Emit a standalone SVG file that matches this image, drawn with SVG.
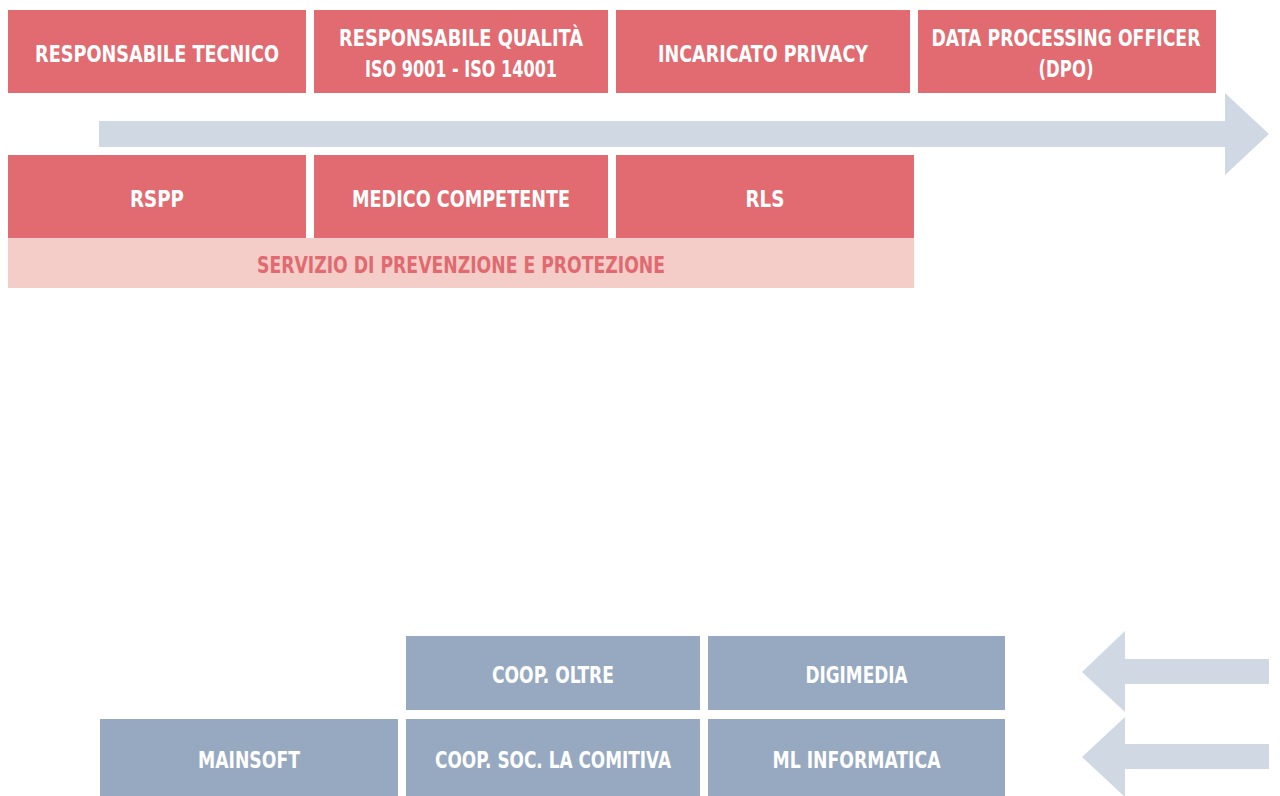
<svg xmlns="http://www.w3.org/2000/svg" width="1280" height="796" viewBox="0 0 1280 796">
<style>
.red{fill:#E16B70}
.blue{fill:#96A9C0}
.band{fill:#F4CDC8}
.arrow{fill:#D0D8E3}
text{font-family:"Liberation Sans Narrow","DejaVu Sans Condensed","Liberation Sans",sans-serif;font-weight:bold;font-size:23px;text-anchor:middle}
.w{fill:#FFFFFF}
.r{fill:#E06A70}
</style>
<rect width="1280" height="796" fill="#FFFFFF"/>
<g id="connectors">
<polygon class="arrow" points="99,121 1225,121 1225,93 1269,134 1225,175 1225,147 99,147"/>
<polygon class="arrow" points="1269,659 1125,659 1125,631 1082,672 1125,712 1125,684 1269,684"/>
<polygon class="arrow" points="1269,744 1125,744 1125,717 1082,757 1125,797 1125,769 1269,769"/>
</g>
<g id="responsabile-tecnico"><rect class="red" x="8" y="10" width="298" height="83"/><text class="w" x="157" y="62" textLength="244" lengthAdjust="spacingAndGlyphs">RESPONSABILE TECNICO</text></g>
<g id="responsabile-qualita"><rect class="red" x="314" y="10" width="294" height="83"/><text class="w" x="461" y="46" textLength="244" lengthAdjust="spacingAndGlyphs">RESPONSABILE QUALITÀ</text><text class="w" x="461" y="77" textLength="192" lengthAdjust="spacingAndGlyphs">ISO 9001 - ISO 14001</text></g>
<g id="incaricato-privacy"><rect class="red" x="616" y="10" width="294" height="83"/><text class="w" x="763" y="62" textLength="210" lengthAdjust="spacingAndGlyphs">INCARICATO PRIVACY</text></g>
<g id="dpo"><rect class="red" x="918" y="10" width="298" height="83"/><text class="w" x="1066" y="46" textLength="269" lengthAdjust="spacingAndGlyphs">DATA PROCESSING OFFICER</text><text class="w" x="1066" y="77" textLength="55" lengthAdjust="spacingAndGlyphs">(DPO)</text></g>
<g id="servizio-prevenzione"><rect class="band" x="8" y="238" width="906" height="50"/><text class="r" x="461" y="273" textLength="408" lengthAdjust="spacingAndGlyphs">SERVIZIO DI PREVENZIONE E PROTEZIONE</text></g>
<g id="rspp"><rect class="red" x="8" y="155" width="298" height="83"/><text class="w" x="157" y="207" textLength="54" lengthAdjust="spacingAndGlyphs">RSPP</text></g>
<g id="medico-competente"><rect class="red" x="314" y="155" width="294" height="83"/><text class="w" x="461" y="207" textLength="218" lengthAdjust="spacingAndGlyphs">MEDICO COMPETENTE</text></g>
<g id="rls"><rect class="red" x="616" y="155" width="298" height="83"/><text class="w" x="765" y="207" textLength="39" lengthAdjust="spacingAndGlyphs">RLS</text></g>
<g id="coop-oltre"><rect class="blue" x="406" y="636" width="294" height="74"/><text class="w" x="553" y="683" textLength="122" lengthAdjust="spacingAndGlyphs">COOP. OLTRE</text></g>
<g id="digimedia"><rect class="blue" x="708" y="636" width="297" height="74"/><text class="w" x="856.5" y="683" textLength="102" lengthAdjust="spacingAndGlyphs">DIGIMEDIA</text></g>
<g id="mainsoft"><rect class="blue" x="100" y="719" width="298" height="77"/><text class="w" x="249" y="768" textLength="102" lengthAdjust="spacingAndGlyphs">MAINSOFT</text></g>
<g id="coop-comitiva"><rect class="blue" x="406" y="719" width="294" height="77"/><text class="w" x="553" y="768" textLength="236" lengthAdjust="spacingAndGlyphs">COOP. SOC. LA COMITIVA</text></g>
<g id="ml-informatica"><rect class="blue" x="708" y="719" width="297" height="77"/><text class="w" x="856.5" y="768" textLength="168" lengthAdjust="spacingAndGlyphs">ML INFORMATICA</text></g>
</svg>
